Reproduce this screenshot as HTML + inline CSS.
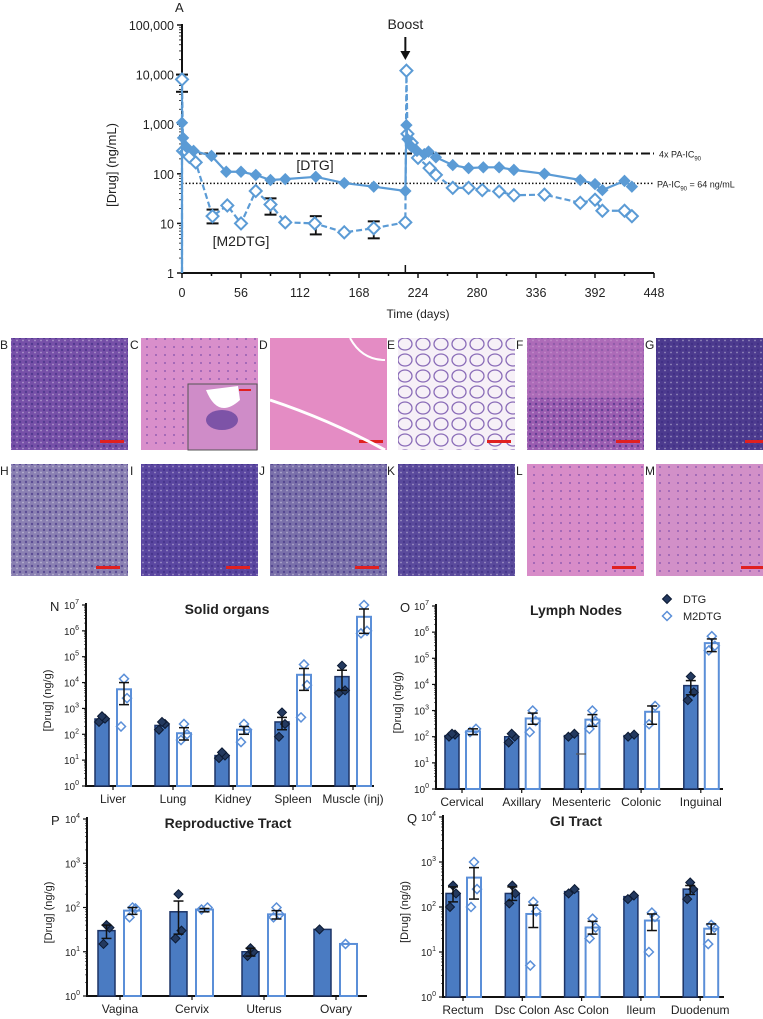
<!DOCTYPE html>
<html><head><meta charset="utf-8"><style>
html,body{margin:0;padding:0;background:#fff;}
body{width:763px;height:1019px;overflow:hidden;font-family:"Liberation Sans",sans-serif;}
svg{position:absolute;left:0;top:0;}
text{font-family:"Liberation Sans",sans-serif;}
</style></head><body>
<svg id="fig" width="763" height="1019" viewBox="0 0 763 1019">
<defs>
<pattern id="dots" width="6" height="6" patternUnits="userSpaceOnUse"><circle cx="2" cy="2" r="1.2" fill="#3a2a80" opacity="0.6"/><circle cx="5" cy="4.5" r="0.9" fill="#fff" opacity="0.4"/></pattern>
<pattern id="lung" width="18" height="16" patternUnits="userSpaceOnUse"><ellipse cx="9" cy="8" rx="7" ry="6" fill="none" stroke="#8a6cb8" stroke-width="1.3"/></pattern>
<pattern id="pinkdots" width="9" height="8" patternUnits="userSpaceOnUse"><circle cx="3" cy="3" r="1" fill="#7a4aa8" opacity="0.7"/></pattern>
</defs>
</svg>
<script>
// ---------- Panel A data ----------
const dtgDays=[0,0,1,4,11,28,42,56,70,84,98,127,154,182,212,213,214,218,223,230,234,241,257,272,286,301,315,344,378,392,399,420,427];
const dtgVals=[1,1070,530,350,290,230,110,110,95,75,78,87,65,55,45,960,500,350,290,250,280,215,150,130,135,135,120,100,75,62,47,72,55];
const m2Days=[0,0,1,4,7,13,29,43,56,70,84,98,126,154,182,212,213,214,218,224,235,241,257,272,285,301,315,344,378,392,399,420,427];
const m2Vals=[1,8000,290,280,220,170,14,23,10,45,24,10.5,10,6.6,8,10.5,12000,640,420,210,130,95,52,52,47,44,37,38,26,30,18,18,14];
const errDays=[0,29,84,127,182];
const errLo=[4500,10,15,6,5];
const errHi=[10000,19,32,14,11];
const xTicksA=[0,56,112,168,224,280,336,392,448];
const yTicksA=[1,10,100,1000,10000,100000];
const yTickLabelsA=["1","10","100","1,000","10,000","100,000"];

// ---------- Panel N ----------
const nCats=["Liver","Lung","Kidney","Spleen","Muscle (inj)"];
const nDTG=[390,220,15,300,17000];
const nM2=[5500,110,150,20000,3500000];
const nDTGpts=[[300,400,500],[150,250,300],[12,15,20],[80,250,700],[4000,5000,45000]];
const nM2pts=[[200,2500,14000],[60,100,250],[50,150,250],[450,8000,50000],[800000,1000000,10000000]];
const nDTGerr=[null,null,null,[150,450],[5000,30000]];
const nM2err=[[1400,10000],[60,180],[100,200],[5000,35000],[800000,7000000]];
// ---------- Panel O ----------
const oCats=["Cervical","Axillary","Mesenteric","Colonic","Inguinal"];
const oDTG=[110,100,110,110,9000];
const oM2=[160,500,450,900,380000];
const oDTGpts=[[100,120,130],[60,100,130],[100,130],[100,120],[2500,5000,20000]];
const oM2pts=[[150,200],[150,400,1000],[200,400,1000],[300,1500],[200000,300000,700000]];
const oDTGerr=[null,null,null,null,[4000,14000]];
const oM2err=[[120,200],[300,800],[250,700],[300,1500],[180000,550000]];
// ---------- Panel P ----------
const pCats=["Vagina","Cervix","Uterus","Ovary"];
const pDTG=[30,80,10,32];
const pM2=[85,90,70,15];
const pDTGpts=[[15,35,40],[20,30,200],[8,10,12],[32]];
const pM2pts=[[60,95,100],[90,100],[60,70,100],[15]];
const pDTGerr=[[20,40],[25,140],[8,12],null];
const pM2err=[[70,100],[80,95],[55,85],null];
// ---------- Panel Q ----------
const qCats=["Rectum","Dsc Colon","Asc Colon","Ileum","Duodenum"];
const qDTG=[200,200,220,170,250];
const qM2=[450,70,35,50,33];
const qDTGpts=[[100,200,300],[120,200,300],[200,250],[150,180],[150,250,350]];
const qM2pts=[[100,250,1000],[5,80,130],[20,35,55],[10,60,75],[15,35,40]];
const qDTGerr=[[130,280],[140,280],null,null,[190,300]];
const qM2err=[[150,750],[35,110],[25,48],[30,70],[25,42]];

const NS="http://www.w3.org/2000/svg";
const svg=document.getElementById('fig');
function el(tag,attrs,parent){const e=document.createElementNS(NS,tag);for(const k in attrs)e.setAttribute(k,attrs[k]);(parent||svg).appendChild(e);return e;}
function txt(s,x,y,attrs,parent){const t=el('text',Object.assign({x:x,y:y,'font-size':12,fill:'#222'},attrs||{}),parent);t.textContent=s;return t;}
function diamond(cx,cy,r){return `M${cx},${cy-r}L${cx+r},${cy}L${cx},${cy+r}L${cx-r},${cy}Z`;}

// ================= Panel A =================
const gA=el('g',{});


const xA=d=>182+d*472/448;
const yA=v=>273-Math.log10(v)*49.6;
let t=txt('A',175,12,{'font-size':13});

let ax=el('line',{x1:182,y1:24,x2:182,y2:274,stroke:'#111','stroke-width':2},gA);

ax=el('line',{x1:181,y1:273,x2:654,y2:273,stroke:'#111','stroke-width':2},gA);

for(let d=0;d<=448;d+=28){el('line',{x1:xA(d),y1:273,x2:xA(d),y2:d%56===0?278:276,stroke:'#111','stroke-width':1.5},gA);}
xTicksA.forEach(d=>{const l=txt(String(d),xA(d),297,{'font-size':12.5,'text-anchor':'middle'},gA);
});
yTicksA.forEach((v,i)=>{el('line',{x1:177,y1:yA(v),x2:182,y2:yA(v),stroke:'#111','stroke-width':1.5},gA);
 if(i<yTicksA.length-1){for(let m=2;m<10;m++)el('line',{x1:179,y1:yA(v*m),x2:182,y2:yA(v*m),stroke:'#111','stroke-width':0.8},gA);}
 const l=txt(yTickLabelsA[i],174,yA(v)+5,{'font-size':12.5,'text-anchor':'end'},gA);
 });
el('line',{x1:xA(212),y1:273,x2:xA(212),y2:265,stroke:'#111','stroke-width':1.5},gA);
t=txt('Time (days)',418,318,{'font-size':12,'text-anchor':'middle'},gA);

t=txt('[Drug] (ng/mL)',0,0,{'font-size':13,'text-anchor':'middle',transform:'translate(116,165) rotate(-90)'},gA);

let rl=el('line',{x1:182,y1:yA(256),x2:654,y2:yA(256),stroke:'#111','stroke-width':2,'stroke-dasharray':'9,3,2,3'},gA);

rl=el('line',{x1:182,y1:yA(64),x2:654,y2:yA(64),stroke:'#111','stroke-width':1.5,'stroke-dasharray':'1.5,2'},gA);

t=el('text',{x:659,y:yA(256)+4,'font-size':9,fill:'#222'},gA);t.innerHTML='4x PA-IC<tspan font-size="6" dy="3">90</tspan>';

t=el('text',{x:657,y:yA(64)+4,'font-size':9,fill:'#222'},gA);t.innerHTML='PA-IC<tspan font-size="6" dy="3">90</tspan><tspan dy="-3"> = 64 ng/mL</tspan>';

t=txt('Boost',xA(212),29,{'font-size':14,'text-anchor':'middle'},gA);

let ar=el('line',{x1:xA(212),y1:37,x2:xA(212),y2:54,stroke:'#111','stroke-width':2},gA);

el('path',{d:`M${xA(212)-5},51L${xA(212)+5},51L${xA(212)},60Z`,fill:'#111'},gA);
errDays.forEach((d,i)=>{const g=el('g',{},gA);
 
 const x=xA(d);el('line',{x1:x,y1:yA(errLo[i]),x2:x,y2:yA(errHi[i]),stroke:'#111','stroke-width':1.8},g);
 el('line',{x1:x-6,y1:yA(errLo[i]),x2:x+6,y2:yA(errLo[i]),stroke:'#111','stroke-width':2},g);
 el('line',{x1:x-6,y1:yA(errHi[i]),x2:x+6,y2:yA(errHi[i]),stroke:'#111','stroke-width':2},g);});
const blue='#5b9bd5';
function series(days,vals,dashed,filled,name){
 const g=el('g',{},gA);
 
 const d=days.map((dd,i)=>(i?'L':'M')+xA(dd)+','+yA(vals[i])).join('');
 el('path',{d:d,fill:'none',stroke:blue,'stroke-width':2.2,'stroke-dasharray':dashed?'6,3':'none'},g);
 days.forEach((dd,i)=>{if(i===0)return;
  const m=el('path',{d:diamond(xA(dd),yA(vals[i]),filled?5.5:6),fill:filled?blue:'#fff',stroke:blue,'stroke-width':filled?1:2},g);
  });
}
series(m2Days,m2Vals,true,false,'m2dtg-series');
series(dtgDays,dtgVals,false,true,'dtg-series');
t=txt('[DTG]',315,170,{'font-size':14,'text-anchor':'middle'},gA);

t=txt('[M2DTG]',241,246,{'font-size':14,'text-anchor':'middle'},gA);


// ================= Histology =================
const histo=[
 ['B',11,338,'#7650a8','url(#dots)'],['C',141,338,'#d98fcb','url(#pinkdots)'],['D',270,338,'#e48cc4',null],
 ['E',398,338,'#f6f0f7','url(#lung)'],['F',527,338,'#9a5cb0','url(#dots)'],['G',656,338,'#4c3a8e','url(#dots)'],
 ['H',11,464,'#8a80b2','url(#dots)'],['I',141,464,'#5a46a0','url(#dots)'],['J',270,464,'#7a70aa','url(#dots)'],
 ['K',398,464,'#5a4a9c','url(#dots)'],['L',527,464,'#d88cc8','url(#pinkdots)'],['M',656,464,'#d290c8','url(#pinkdots)']];
histo.forEach(h=>{const g=el('g',{});
 
 
 el('rect',{x:h[1],y:h[2],width:117,height:112,fill:h[3]},g);
 if(h[4])el('rect',{x:h[1],y:h[2],width:117,height:112,fill:h[4]},g);
 txt(h[0],h[1]-11,h[2]+11,{'font-size':12},g);
 if(h[2]===338){el('rect',{x:h[1]+89,y:h[2]+102,width:24,height:3,fill:'#e02020'},g);}
 if(h[0]==='H'||h[0]==='I'||h[0]==='J'||h[0]==='L'||h[0]==='M')el('rect',{x:h[1]+85,y:h[2]+102,width:24,height:3,fill:'#e02020'},g);
});
el('rect',{x:188,y:384,width:69,height:66,fill:'#cf8cc8',stroke:'#555','stroke-width':1});
el('path',{d:'M206,390 Q218,420 240,400 L238,386 Z',fill:'#fff'});
el('ellipse',{cx:222,cy:420,rx:16,ry:10,fill:'#5a3a98',opacity:0.7});
el('rect',{x:239,y:389,width:12,height:2,fill:'#e02020'});
el('path',{d:'M270,400 Q330,420 385,450',stroke:'#fff','stroke-width':3,fill:'none'});
el('path',{d:'M350,338 Q362,360 385,360',stroke:'#fff','stroke-width':2,fill:'none'});
el('rect',{x:527,y:338,width:117,height:60,fill:'#c07ac0',opacity:0.5});

// ================= Bar panels =================
function barPanel(o){
 const g=el('g',{});
 
 const y=v=>o.yBot-Math.log10(v)*(o.yBot-o.yTop)/o.dec;
 const c=i=>o.c0+i*o.pitch;
 let a=el('line',{x1:o.ax,y1:o.yTop-2,x2:o.ax,y2:o.yBot+1,stroke:'#111','stroke-width':2},g);
 
 a=el('line',{x1:o.ax-1,y1:o.yBot,x2:o.x1,y2:o.yBot,stroke:'#111','stroke-width':2},g);
 
 for(let k=0;k<=o.dec;k++){const yy=y(Math.pow(10,k));
  el('line',{x1:o.ax-4,y1:yy,x2:o.ax,y2:yy,stroke:'#111','stroke-width':1.2},g);
  if(k<o.dec)for(let m=2;m<10;m++)el('line',{x1:o.ax-2,y1:y(m*Math.pow(10,k)),x2:o.ax,y2:y(m*Math.pow(10,k)),stroke:'#111','stroke-width':0.6},g);
  const l=el('text',{x:o.ax-7,y:yy+4,'font-size':10,'text-anchor':'end',fill:'#222'},g);
  l.innerHTML='10<tspan font-size="7" dy="-5">'+k+'</tspan>';
  }
 let tt=txt(o.title,o.tx,o.yTop+9,{'font-size':14,'font-weight':'bold','text-anchor':'middle'},g);
 
 tt=txt(o.letter,o.ax-36,o.yTop+6,{'font-size':13},g);
 
 tt=txt('[Drug] (ng/g)',0,0,{'font-size':11,'text-anchor':'middle',transform:`translate(${o.ax-35},${(o.yTop+o.yBot)/2+5}) rotate(-90)`},g);
 
 o.cats.forEach((cat,i)=>{const cx=c(i);
  el('line',{x1:cx,y1:o.yBot,x2:cx,y2:o.yBot+4,stroke:'#111','stroke-width':1.2},g);
  const l=txt(cat,cx,o.yBot+17,{'font-size':12,'text-anchor':'middle'},g);
  
  const b1=el('rect',{x:cx+o.d0,y:y(o.dtg[i]),width:o.bw,height:o.yBot-y(o.dtg[i]),fill:'#4a7bc2',stroke:'#1d3466','stroke-width':1.5},g);
  
  const b2=el('rect',{x:cx+o.m0,y:y(o.m2[i]),width:o.bw,height:o.yBot-y(o.m2[i]),fill:'#fff',stroke:'#5b8fd8','stroke-width':2},g);
  
  const jit=[-3,3,0];
  o.dpts[i].forEach((v,j)=>{const p=el('path',{d:diamond(cx+o.d0+o.bw/2+jit[j],y(v),4.5),fill:'#23395f',stroke:'#0c1a33','stroke-width':1},g);
   });
  o.mpts[i].forEach((v,j)=>{const p=el('path',{d:diamond(cx+o.m0+o.bw/2+jit[j],y(v),4.5),fill:'none',stroke:'#5b8fd8','stroke-width':1.5},g);
   });
  [[o.derr[i],cx+o.d0+o.bw/2],[o.merr[i],cx+o.m0+o.bw/2]].forEach(e=>{if(!e[0])return;
   const eg=el('g',{},g);
   el('line',{x1:e[1],y1:y(e[0][0]),x2:e[1],y2:y(e[0][1]),stroke:'#111','stroke-width':1.5},eg);
   el('line',{x1:e[1]-5,y1:y(e[0][0]),x2:e[1]+5,y2:y(e[0][0]),stroke:'#111','stroke-width':1.5},eg);
   el('line',{x1:e[1]-5,y1:y(e[0][1]),x2:e[1]+5,y2:y(e[0][1]),stroke:'#111','stroke-width':1.5},eg);});
 });
 return g;
}
barPanel({name:'solid-organs-chart',letter:'N',title:'Solid organs',tx:227,ax:86,x1:374,yTop:605,yBot:786,dec:7,c0:113,pitch:60,d0:-18,m0:4,bw:14,
 cats:nCats,dtg:nDTG,m2:nM2,dpts:nDTGpts,mpts:nM2pts,derr:nDTGerr,merr:nM2err});
barPanel({name:'lymph-nodes-chart',letter:'O',title:'Lymph Nodes',tx:576,ax:436,x1:723,yTop:606,yBot:789,dec:7,c0:462,pitch:59.7,d0:-17,m0:4,bw:14,
 cats:oCats,dtg:oDTG,m2:oM2,dpts:oDTGpts,mpts:oM2pts,derr:oDTGerr,merr:oM2err});
el('line',{x1:576,y1:754,x2:586,y2:754,stroke:'#555','stroke-width':1.2});
barPanel({name:'reproductive-tract-chart',letter:'P',title:'Reproductive Tract',tx:228,ax:87,x1:367,yTop:819,yBot:996,dec:4,c0:120,pitch:72,d0:-22,m0:4,bw:17,
 cats:pCats,dtg:pDTG,m2:pM2,dpts:pDTGpts,mpts:pM2pts,derr:pDTGerr,merr:pM2err});
barPanel({name:'gi-tract-chart',letter:'Q',title:'GI Tract',tx:576,ax:443,x1:724,yTop:817,yBot:997,dec:4,c0:463,pitch:59.3,d0:-17,m0:4,bw:14,
 cats:qCats,dtg:qDTG,m2:qM2,dpts:qDTGpts,mpts:qM2pts,derr:qDTGerr,merr:qM2err});
const lg=el('g',{});

let lp=el('path',{d:diamond(667,599,4.5),fill:'#23395f',stroke:'#0c1a33'},lg);

t=txt('DTG',683,603,{'font-size':11},lg);

lp=el('path',{d:diamond(667,616,4.5),fill:'none',stroke:'#5b8fd8','stroke-width':1.5},lg);

t=txt('M2DTG',683,620,{'font-size':11},lg);

</script>
</body></html>
